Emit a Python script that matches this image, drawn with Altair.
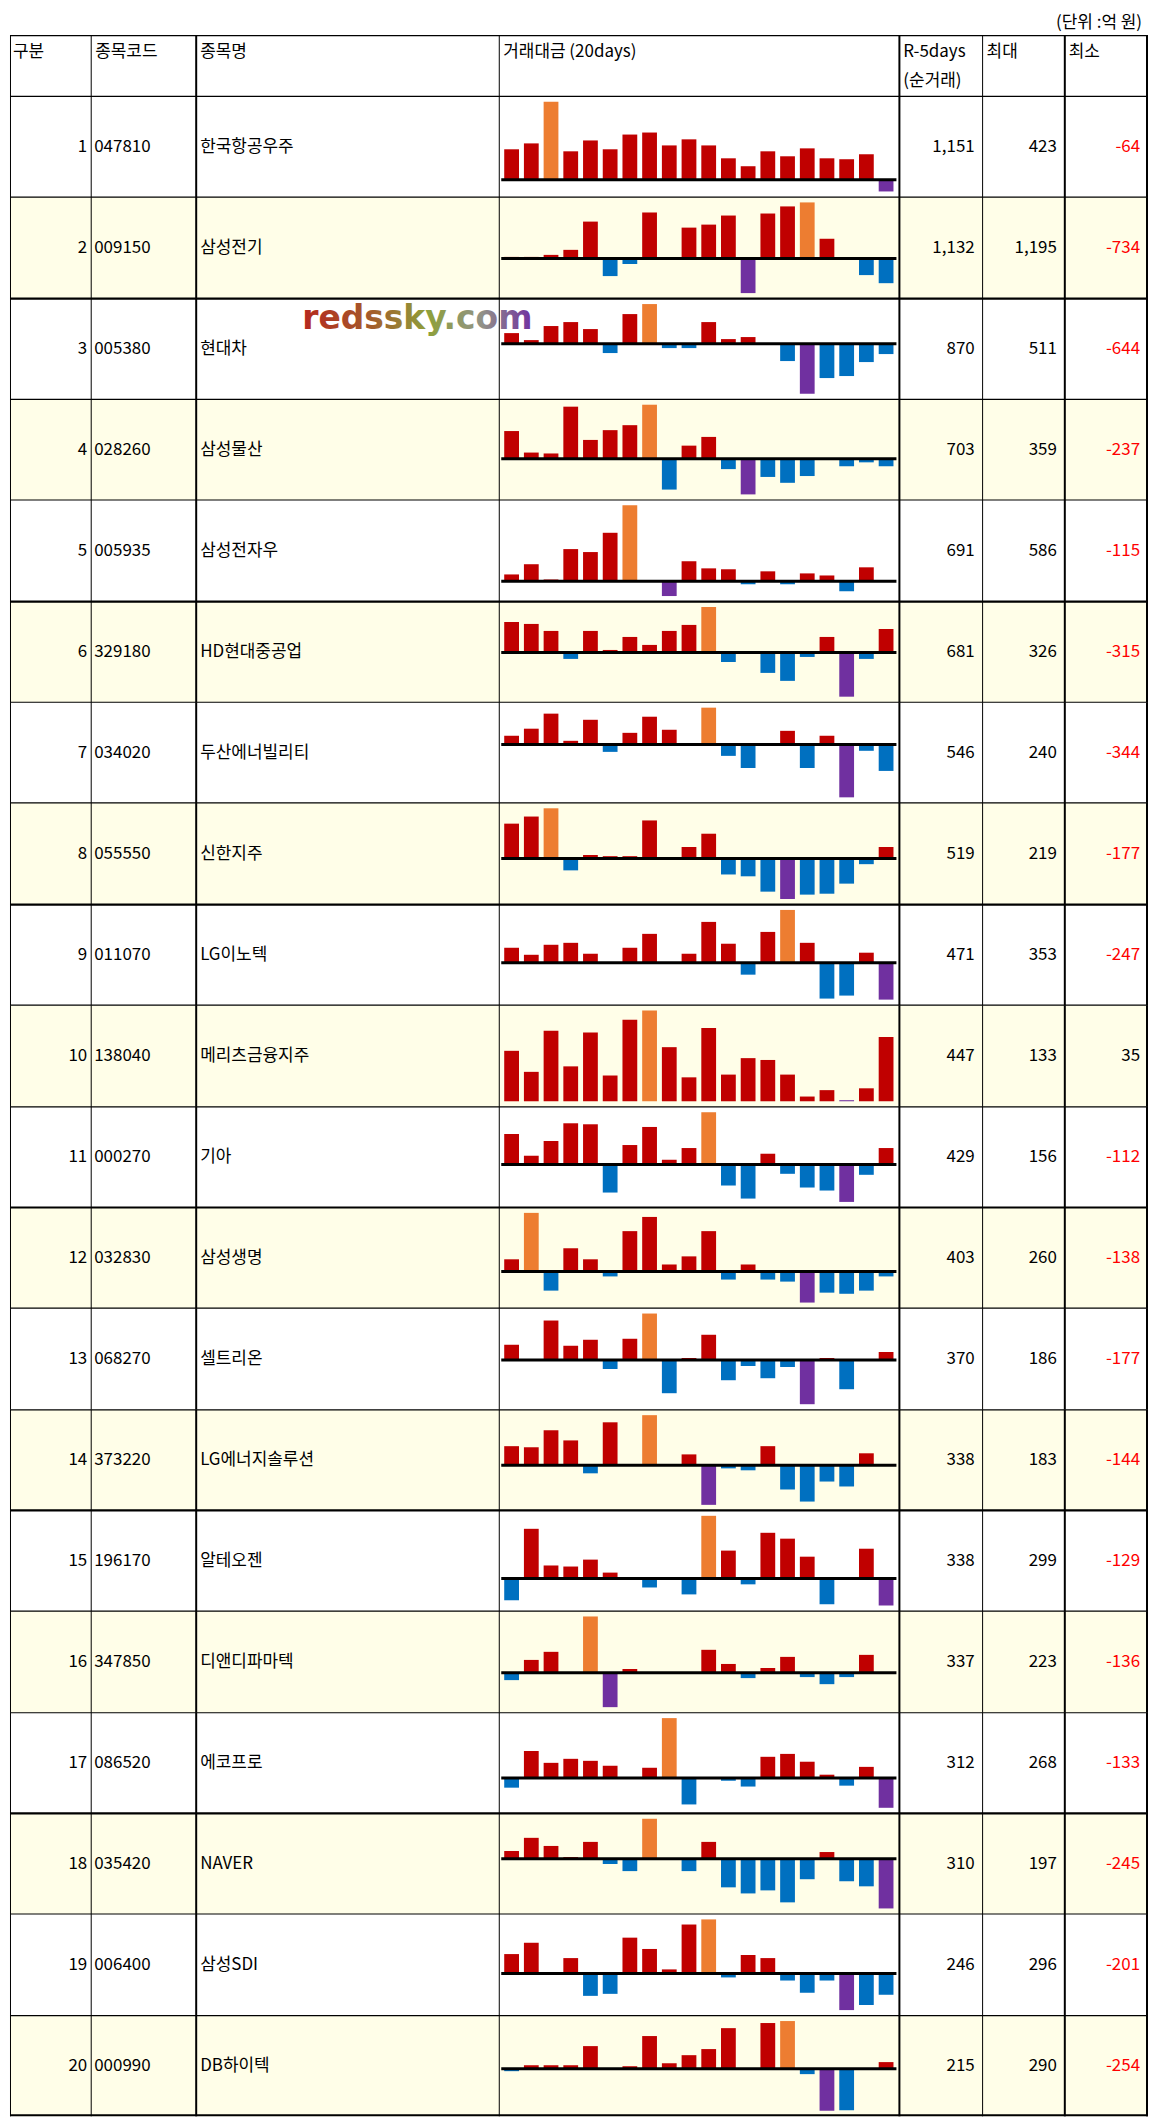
import altair as alt
import pandas as pd

unit_label = "(단위 :억 원)"
headers = ["구분", "종목코드", "종목명", "거래대금 (20days)", "R-5days", "최대", "최소"]
header_sub = "(순거래)"
watermark = "redssky.com"

ranks = list(range(1, 21))
codes = ["047810", "009150", "005380", "028260", "005935", "329180", "034020", "055550", "011070", "138040",
         "000270", "032830", "068270", "373220", "196170", "347850", "086520", "035420", "006400", "000990"]
names = ["한국항공우주", "삼성전기", "현대차", "삼성물산", "삼성전자우", "HD현대중공업", "두산에너빌리티", "신한지주",
         "LG이노텍", "메리츠금융지주", "기아", "삼성생명", "셀트리온", "LG에너지솔루션", "알테오젠", "디앤디파마텍",
         "에코프로", "NAVER", "삼성SDI", "DB하이텍"]
r5 = [1151, 1132, 870, 703, 691, 681, 546, 519, 471, 447, 429, 403, 370, 338, 338, 337, 312, 310, 246, 215]
maxes = [423, 1195, 511, 359, 586, 326, 240, 219, 353, 133, 156, 260, 186, 183, 299, 223, 268, 197, 296, 290]
mins = [-64, -734, -644, -237, -115, -315, -344, -177, -247, 35, -112, -138, -177, -144, -129, -136, -133, -245, -201, -254]

s01 = [165, 197, 423, 154, 213, 165, 245, 256, 186, 219, 186, 116, 73, 154, 127, 170, 116, 111, 138, -64]
s02 = [36, 36, 79, 186, 787, -372, -115, 981, 0, 659, 723, 916, -734, 959, 1110, 1195, 422, 0, -351, -523]
s03 = [137, 47, 228, 279, 189, -120, 382, 511, -56, -56, 279, 60, 86, 0, -223, -644, -442, -416, -236, -133]
s04 = [184, 41, 35, 346, 125, 190, 223, 359, -205, 87, 145, -69, -237, -121, -160, -115, 0, -50, -24, -50]
s05 = [52, 131, 13, 248, 225, 374, 586, 0, -115, 154, 99, 92, -24, 76, -24, 60, 44, -78, 107, 0]
s06 = [219, 205, 155, -45, 155, 19, 112, 55, 155, 198, 326, -67, 0, -145, -202, -31, 112, -315, -45, 169]
s07 = [57, 103, 201, 24, 161, -48, 76, 181, 96, 0, 240, -74, -153, 0, 89, -153, 57, -344, -41, -172]
s08 = [152, 183, 219, -52, 15, 10, 10, 166, 0, 50, 108, -70, -78, -145, -177, -158, -154, -110, -25, 50]
s09 = [100, 53, 120, 133, 60, 0, 100, 193, 0, 60, 273, 127, -80, 206, 353, 133, -240, -220, 67, -247]
s10 = [89, 66, 111, 72, 109, 62, 123, 133, 93, 60, 114, 63, 81, 79, 63, 39, 46, 35, 48, 104]
s11 = [91, 26, 70, 123, 120, -84, 58, 112, 14, 49, 156, -63, -102, 32, -28, -69, -78, -112, -31, 49]
s12 = [54, 260, -85, 103, 54, -22, 179, 242, 31, 67, 179, -36, 31, -36, -45, -138, -94, -99, -85, -22]
s13 = [61, 0, 158, 57, 81, -36, 85, 186, -133, 8, 101, -81, -24, -73, -28, -177, 8, -117, 0, 32]
s14 = [70, 66, 128, 91, -29, 157, 0, 183, 0, 40, -144, -11, -18, 70, -88, -132, -59, -77, 44, 0]
s15 = [-104, 237, 62, 57, 90, 28, 0, -43, 0, -76, 299, 133, -28, 218, 190, 104, -123, 0, 142, -129]
s16 = [-29, 51, 83, 0, 223, -136, 15, 0, 0, 0, 91, 35, -21, 19, 63, -17, -45, -17, 71, 0]
s17 = [-43, 121, 68, 86, 77, 55, 0, 46, 268, -118, 0, -12, -38, 95, 108, 73, 15, -34, 50, -133]
s18 = [38, 103, 63, 8, 83, -26, -61, 197, 0, -61, 83, -141, -171, -156, -215, -101, 33, -111, -136, -245]
s19 = [106, 168, 0, 84, -123, -112, 196, 134, 22, 268, 296, -22, 101, 84, -39, -106, -39, -201, -173, -117]
s20 = [-14, 22, 22, 22, 138, 0, 16, 199, 34, 83, 120, 247, 0, 278, 290, -32, -254, -251, 0, 41]
series = [s01, s02, s03, s04, s05, s06, s07, s08, s09, s10,
          s11, s12, s13, s14, s15, s16, s17, s18, s19, s20]

# ---------------- layout / style ----------------
FONT = "Noto Sans CJK KR"
FS = 17
OX = 8
W = 1142
KX = W / (1157 - OX)
H_UNIT = 24
H_HEAD = 61
ROW_PITCH = 101.35
ROW_H = [round((i + 1) * ROW_PITCH) - round(i * ROW_PITCH) for i in range(20)]
BG_ALT = "#FFFEE8"
COLORS = {"pos": "#C00000", "neg": "#0070C0", "high": "#ED7D31", "low": "#7030A0"}


def px(x):
    return max(x - OX, 0) * KX


VLINES = [(8.5, 1), (90, 1), (196, 2), (502, 1), (906, 2), (990, 1), (1073, 2), (1156, 2)]
THICK_TOP = {2, 5, 8, 11, 14, 17}

one = pd.DataFrame({"k": [0]})


def fmt(v):
    return f"{v:,}"


def vrules(h, data):
    out = []
    for xo, sw in VLINES:
        out.append(alt.Chart(data).mark_rule(color="black", strokeWidth=sw).encode(
            x=alt.value(px(xo)), y=alt.value(0), y2=alt.value(h)))
    return out


def hrule(y, sw, data):
    return alt.Chart(data).mark_rule(color="black", strokeWidth=sw).encode(
        x=alt.value(0), x2=alt.value(px(1157)), y=alt.value(y))


# unit label chart
unit_chart = alt.Chart(one).mark_text(font=FONT, fontSize=FS, align="right", baseline="alphabetic").encode(
    x=alt.value(px(1151)), y=alt.value(16), text=alt.value(unit_label)
).properties(width=W, height=H_UNIT)

# header chart
head_x = [4, 94, 200, 506, 910, 994, 1077]
head_layers = []
for lab, hx in zip(headers, head_x):
    head_layers.append(alt.Chart(one).mark_text(font=FONT, fontSize=FS, align="left", baseline="alphabetic").encode(
        x=alt.value(max(px(hx), 3)), y=alt.value(21), text=alt.value(lab)))
head_layers.append(alt.Chart(one).mark_text(font=FONT, fontSize=FS, align="left", baseline="alphabetic").encode(
    x=alt.value(px(910)), y=alt.value(51), text=alt.value(header_sub)))
head_layers += vrules(H_HEAD, one)
head_layers.append(hrule(0, 1.3, one))
header_chart = alt.layer(*head_layers).properties(width=W, height=H_HEAD)


def row_chart(i):
    h = ROW_H[i]
    vals = series[i]
    hi = vals.index(max(vals))
    lo = vals.index(min(vals))
    cats = []
    for k, v in enumerate(vals):
        if k == hi:
            cats.append("high")
        elif k == lo:
            cats.append("low")
        elif v < 0:
            cats.append("neg")
        else:
            cats.append("pos")
    vmin, vmax = min(vals), max(vals)
    base = 0 if vmin < 0 else vmin - (vmax - vmin) * 0.012
    dlo = min(vmin, base)
    bars_df = pd.DataFrame({"d": list(range(1, 21)), "v": vals, "b": [base] * 20, "c": cats})
    info = pd.DataFrame({"rank": [str(ranks[i])], "code": [codes[i]], "name": [names[i]],
                         "r5": [fmt(r5[i])], "mx": [fmt(maxes[i])], "mn": [fmt(mins[i])],
                         "neg": [mins[i] < 0]})
    layers = []
    if i % 2 == 1:
        layers.append(alt.Chart(info).mark_rect(color=BG_ALT).encode(
            x=alt.value(0), x2=alt.value(px(1157)), y=alt.value(0), y2=alt.value(h)))
    yscale = alt.Scale(domain=[dlo, vmax], range=[h - 5.6, 5.4], nice=False, zero=False)
    layers.append(alt.Chart(bars_df).mark_bar().encode(
        x=alt.X("d:O", axis=None, scale=alt.Scale(range=[px(504.5), px(902.5)],
                                                  paddingInner=0.25, paddingOuter=0.125)),
        y=alt.Y("v:Q", axis=None, scale=yscale),
        y2="b:Q",
        color=alt.Color("c:N", legend=None,
                        scale=alt.Scale(domain=list(COLORS.keys()), range=list(COLORS.values()))),
    ))
    if vmin < 0:
        layers.append(alt.Chart(info).mark_rule(color="black", strokeWidth=3).encode(
            x=alt.value(px(504)), x2=alt.value(px(903)), y=alt.datum(0)))
    tbase = dict(font=FONT, fontSize=FS, baseline="middle")
    ym = alt.value(h / 2)
    layers.append(alt.Chart(info).mark_text(align="right", **tbase).encode(
        x=alt.value(px(86)), y=ym, text="rank:N"))
    layers.append(alt.Chart(info).mark_text(align="left", **tbase).encode(
        x=alt.value(px(93)), y=ym, text="code:N"))
    layers.append(alt.Chart(info).mark_text(align="left", **tbase).encode(
        x=alt.value(px(200)), y=ym, text="name:N"))
    layers.append(alt.Chart(info).mark_text(align="right", **tbase).encode(
        x=alt.value(px(982)), y=ym, text="r5:N"))
    layers.append(alt.Chart(info).mark_text(align="right", **tbase).encode(
        x=alt.value(px(1065)), y=ym, text="mx:N"))
    layers.append(alt.Chart(info).mark_text(align="right", **tbase).encode(
        x=alt.value(px(1149)), y=ym, text="mn:N",
        color=alt.condition("datum.neg", alt.value("#FF0000"), alt.value("black"))))
    layers += vrules(h, info)
    layers.append(hrule(0, 2.2 if i in THICK_TOP else 1.2, info))
    if i == 19:
        layers.append(hrule(h - 1, 2, info))
    if i == 2:
        grad = {"gradient": "linear", "x1": 0, "x2": 1, "y1": 0, "y2": 0,
                "stops": [{"offset": 0, "color": "#B5281E"},
                          {"offset": 0.28, "color": "#A5582A"},
                          {"offset": 0.55, "color": "#8EA03C"},
                          {"offset": 0.78, "color": "#929288"},
                          {"offset": 1, "color": "#7030A0"}]}
        layers.append(alt.Chart(info).mark_text(font="DejaVu Sans", fontSize=33, fontWeight="bold",
                                                align="left", baseline="alphabetic", color=grad).encode(
            x=alt.value(px(303)), y=alt.value(30), text=alt.value(watermark)))
    return alt.layer(*layers).properties(width=W, height=h)


rows = [row_chart(i) for i in range(20)]

chart = alt.vconcat(unit_chart, header_chart, *rows, spacing=0, bounds="flush",
                    padding={"left": 0, "top": 0, "right": 0, "bottom": 0}).resolve_scale(
    x="independent", y="independent"
).configure(padding={"left": 0, "top": 0, "right": 0, "bottom": 0}).configure_view(strokeWidth=0)

chart.save("out.html", embed_options={"renderer": "svg", "actions": False})
